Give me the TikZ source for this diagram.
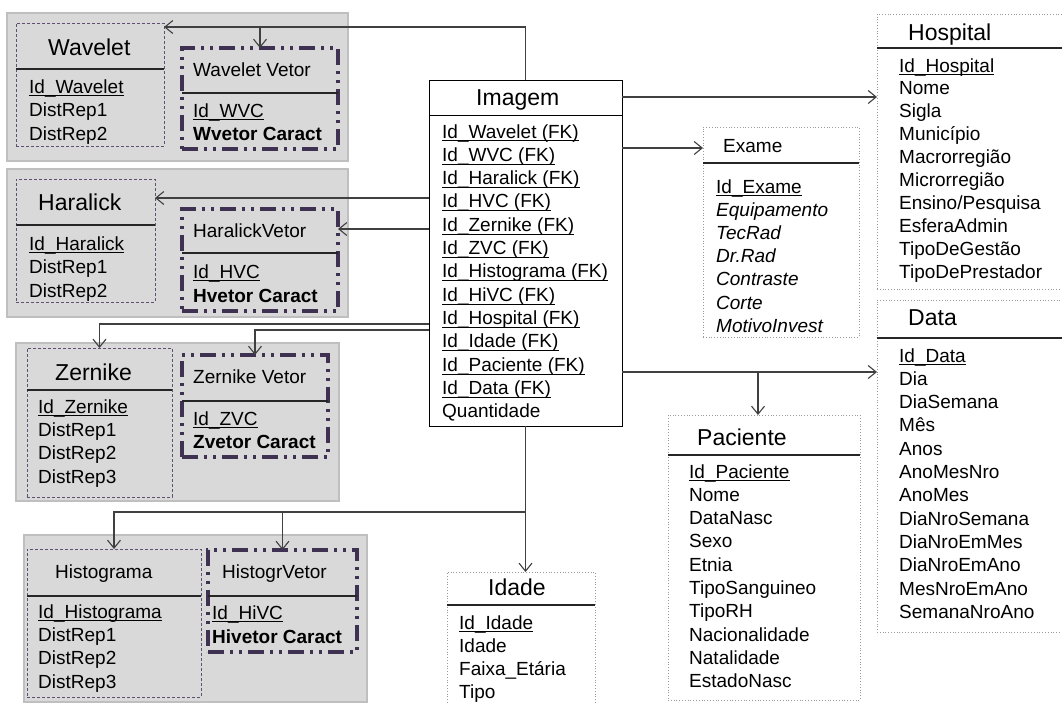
\documentclass[tikz,border=0pt]{standalone}
\usepackage{fontspec}
\setmainfont{Liberation Sans}
\usetikzlibrary{arrows.meta,calc}
\definecolor{grpfill}{HTML}{D9D9D9}
\definecolor{grpline}{HTML}{BFBFBF}
\definecolor{purp}{HTML}{5F4F72}
\definecolor{purpd}{HTML}{3F3151}
\definecolor{conncol}{HTML}{404040}
\definecolor{dotg}{HTML}{9A9A9A}
\newcommand\mkbox[6]{\node[#1, minimum width={#5-#3}, minimum height={#6-#4}] (#2) at (#3,#4) {};}
\newcommand\attrs[6][]{\foreach \t [count=\i] in {#6} \node[att,#1] (#2\i) at (#3,{#4+(\i-1)*#5}) {\t};}
\newcommand\ulin[1]{\draw[line width=0.9pt] ([yshift=-2.8pt]#1.base west) -- ([yshift=-2.8pt]#1.base east);}
\begin{document}
\begin{tikzpicture}[x=1pt,y=-1pt,
 box/.style={anchor=north west, inner sep=0, outer sep=0},
 grp/.style={box, fill=grpfill, draw=grpline, line width=2.5pt},
 dbox/.style={box, draw=purp, line width=0.9pt, dash pattern=on 3pt off 2pt},
 vbox/.style={box, draw=purpd, line width=3.4pt, dash pattern=on 16pt off 6pt on 3pt off 6pt on 3pt off 6pt},
 ebox/.style={box, draw=dotg, fill=white, line width=0.8pt, dotted},
 ibox/.style={box, draw=black, fill=white, line width=1pt},
 sep/.style={draw=black!85, line width=1.1pt},
 ttl/.style={anchor=base west, inner sep=0, font=\fontsize{23}{27}\selectfont},
 ttls/.style={anchor=base west, inner sep=0, font=\fontsize{19}{23}\selectfont},
 att/.style={anchor=base west, inner sep=0, font=\fontsize{19}{23}\selectfont},
 conn/.style={draw=conncol, line width=1.1pt, -{Straight Barb[length=8pt,width=13pt]}},
]
\useasboundingbox (0,0) rectangle (1062,702);
\fill[white] (0,0) rectangle (1062,702);
\clip (0,0) rectangle (1062,702);

% ---- Wavelet group
\mkbox{grp}{wgrp}{7}{13}{348}{161}
\mkbox{dbox}{wavelet}{16}{23}{164}{146}
\draw[sep] (wavelet.west |- 0,69) -- (wavelet.east |- 0,69);
\node[ttl] (wavT) at (48,55) {Wavelet};
\attrs{wa}{29}{93}{23.5}{Id\_Wavelet,DistRep1,DistRep2}
\ulin{wa1}
\mkbox{vbox}{wvet}{182}{48}{338}{149}
\draw[sep] (wvet.west |- 0,93) -- (wvet.east |- 0,93);
\node[ttls] (wvT) at (193,76) {Wavelet Vetor};
\attrs{wv}{193}{117}{23.5}{Id\_WVC,\textbf{Wvetor Caract}}
\ulin{wv1}

% ---- Haralick group
\mkbox{grp}{hgrp}{7}{169}{348}{317}
\mkbox{dbox}{haralick}{16}{179}{155}{302}
\draw[sep] (haralick.west |- 0,225) -- (haralick.east |- 0,225);
\node[ttl] (harT) at (38,210) {Haralick};
\attrs{ha}{29}{250}{23.5}{Id\_Haralick,DistRep1,DistRep2}
\ulin{ha1}
\mkbox{vbox}{hvet}{182}{209}{338}{311}
\draw[sep] (hvet.west |- 0,253) -- (hvet.east |- 0,253);
\node[ttls] (hvT) at (193,237) {HaralickVetor};
\attrs{hv}{193}{278}{24}{Id\_HVC,\textbf{Hvetor Caract}}
\ulin{hv1}

% ---- Zernike group
\mkbox{grp}{zgrp}{16}{343}{339}{501}
\mkbox{dbox}{zernike}{27}{348}{172}{497}
\draw[sep] (zernike.west |- 0,390) -- (zernike.east |- 0,390);
\node[ttl] (zerT) at (55,380) {Zernike};
\attrs{ze}{38}{413}{23.4}{Id\_Zernike,DistRep1,DistRep2,DistRep3}
\ulin{ze1}
\mkbox{vbox}{zvet}{182}{355}{328}{457}
\draw[sep] (zvet.west |- 0,401) -- (zvet.east |- 0,401);
\node[ttls] (zvT) at (193,383) {Zernike Vetor};
\attrs{zv}{193}{425}{23}{Id\_ZVC,\textbf{Zvetor Caract}}
\ulin{zv1}

% ---- Histograma group
\mkbox{grp}{higrp}{24}{535}{367}{702}
\mkbox{dbox}{histo}{27}{549}{201}{697}
\draw[sep] (histo.west |- 0,596) -- (histo.east |- 0,596);
\node[ttls] (hiT) at (55,578) {Histograma};
\attrs{hi}{38}{618}{23.4}{Id\_Histograma,DistRep1,DistRep2,DistRep3}
\ulin{hi1}
\mkbox{vbox}{hivet}{208}{550}{357}{652}
\draw[sep] (hivet.west |- 0,596) -- (hivet.east |- 0,596);
\node[ttls] (hivT) at (222,578) {HistogrVetor};
\attrs{hiv}{212}{619}{24}{Id\_HiVC,\textbf{Hivetor Caract}}
\ulin{hiv1}

% ---- Imagem
\mkbox{ibox}{imagem}{429}{80}{622}{426}
\draw[line width=1pt] (imagem.west |- 0,115) -- (imagem.east |- 0,115);
\node[ttl] (imT) at (476,105) {Imagem};
\attrs{im}{442}{138}{23.33}{Id\_Wavelet (FK),Id\_WVC (FK),Id\_Haralick (FK),Id\_HVC (FK),Id\_Zernike (FK),Id\_ZVC (FK),Id\_Histograma (FK),Id\_HiVC (FK),Id\_Hospital (FK),Id\_Idade (FK),Id\_Paciente (FK),Id\_Data (FK),Quantidade}
\foreach \k in {1,...,12} {\ulin{im\k}}

% ---- Exame
\mkbox{ebox}{exame}{703}{127}{859}{337}
\draw[sep] (exame.west |- 0,163) -- (exame.east |- 0,163);
\node[ttls] (exT) at (723,152) {Exame};
\node[att] (ex1) at (716,193) {Id\_Exame};
\ulin{ex1}
\attrs[font=\fontsize{19}{23}\selectfont\itshape]{exi}{716}{216.2}{23.2}{Equipamento,TecRad,Dr.Rad,Contraste,Corte,MotivoInvest}

% ---- Hospital
\mkbox{ebox}{hospital}{877}{14}{1070}{289}
\draw[sep] (hospital.west |- 0,48) -- (hospital.east |- 0,48);
\node[ttl] (hoT) at (908,40) {Hospital};
\attrs{ho}{899}{72}{22.9}{Id\_Hospital,Nome,Sigla,Município,Macrorregião,Microrregião,Ensino/Pesquisa,EsferaAdmin,TipoDeGestão,TipoDePrestador}
\ulin{ho1}

% ---- Data
\mkbox{ebox}{data}{877}{300}{1070}{632}
\draw[sep] (data.west |- 0,338) -- (data.east |- 0,338);
\node[ttl] (daT) at (908,325) {Data};
\attrs{da}{899}{362}{23.3}{Id\_Data,Dia,DiaSemana,Mês,Anos,AnoMesNro,AnoMes,DiaNroSemana,DiaNroEmMes,DiaNroEmAno,MesNroEmAno,SemanaNroAno}
\ulin{da1}

% ---- Paciente
\mkbox{ebox}{paciente}{668}{415}{860}{700}
\draw[sep] (paciente.west |- 0,455) -- (paciente.east |- 0,455);
\node[ttl] (paT) at (697,445) {Paciente};
\attrs{pa}{689}{478}{23.3}{Id\_Paciente,Nome,DataNasc,Sexo,Etnia,TipoSanguineo,TipoRH,Nacionalidade,Natalidade,EstadoNasc}
\ulin{pa1}

% ---- Idade
\mkbox{ebox}{idade}{447}{572}{595}{720}
\draw[sep] (idade.west |- 0,605) -- (idade.east |- 0,605);
\node[ttl] (idT) at (488,595) {Idade};
\attrs{id}{459}{629}{23.3}{Id\_Idade,Idade,Faixa\_Etária,Tipo}
\ulin{id1}

% ---- connectors
\coordinate (wA) at ([yshift=-4pt]wavelet.north east);
\draw[conn] (imagem.north) |- (wA);
\draw[conn] (wA -| wvet.north) -- (wvet.north);
\coordinate (hA) at ([yshift=55pt]imagem.west);
\draw[conn] (hA) -- (hA -| haralick.east);
\coordinate (hB) at ([yshift=24pt]imagem.west);
\draw[conn] (hB) -- (hB -| hvet.east);
\coordinate (zA) at ([yshift=-71pt]imagem.west);
\draw[conn] (zA) -| (zernike.north);
\coordinate (zB) at ([yshift=-77pt]imagem.west);
\draw[conn] (zB) -| (zvet.north);
\coordinate (hC) at ([yshift=-86pt]imagem.south);
\draw[conn] (imagem.south) -- (hC) -| (histo.north);
\draw[conn] (hC -| hivet.north) -- (hivet.north);
\draw[conn] (hC) -- (hC |- idade.north);
\coordinate (pA) at ([yshift=-17pt]imagem.north east);
\draw[conn] (pA) -- (pA -| hospital.west);
\coordinate (eA) at ([yshift=-68pt]imagem.north east);
\draw[conn] (eA) -- (eA -| exame.west);
\coordinate (dA) at ([yshift=-292pt]imagem.north east);
\draw[conn] (dA) -- (dA -| data.west);
\coordinate (pT) at ([xshift=-6pt]paciente.north);
\draw[conn] (dA -| pT) -- (pT);
\end{tikzpicture}
\end{document}
